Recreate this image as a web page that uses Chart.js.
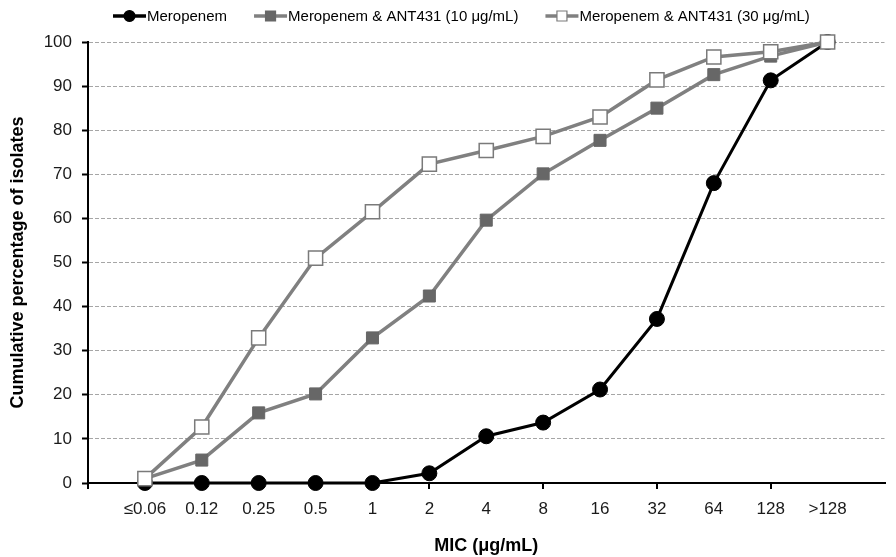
<!DOCTYPE html>
<html>
<head>
<meta charset="utf-8">
<script src="https://cdn.jsdelivr.net/npm/chart.js@4.4.1/dist/chart.umd.min.js"></script>
<style>
  html, body { margin: 0; padding: 0; background: #fff; }
</style>
</head>
<body>
<canvas id="myChart" width="896" height="557"></canvas>
<script>
// MIC 類別
var micLabels = ['≤0.06', '0.12', '0.25', '0.5', '1', '2', '4', '8', '16', '32', '64', '128', '>128'];
var seriesNames = ['Meropenem', 'Meropenem & ANT431 (10 μg/mL)', 'Meropenem & ANT431 (30 μg/mL)'];
// 累積百分比
var meropenem = [0, 0, 0, 0, 0, 2.2, 10.6, 13.7, 21.2, 37.2, 68, 91.3, 100];
var ant10 = [1, 5.2, 15.9, 20.2, 32.9, 42.4, 59.6, 70.1, 77.7, 85, 92.6, 96.8, 100];
var ant30 = [1, 12.7, 32.9, 51, 61.5, 72.3, 75.4, 78.6, 83, 91.4, 96.6, 97.8, 100];

function toPoints(arr) {
  return arr.map(function (v, i) { return { x: i + 1, y: v }; });
}

var fontFamily = 'Arial, "Liberation Sans", sans-serif';
Chart.defaults.font.family = fontFamily;

// 上方圖例 (線 + 標記)
var topLegend = {
  id: 'topLegend',
  afterDraw: function (chart) {
    var ctx = chart.ctx;
    ctx.save();
    ctx.font = '15px ' + fontFamily;
    ctx.textBaseline = 'middle';
    var x = 113, y = 16;
    chart.data.datasets.forEach(function (ds) {
      ctx.strokeStyle = ds.borderColor;
      ctx.lineWidth = 3.5;
      ctx.beginPath();
      ctx.moveTo(x, y);
      ctx.lineTo(x + 33, y);
      ctx.stroke();
      var cx = x + 16.5;
      ctx.fillStyle = ds.pointBackgroundColor;
      ctx.strokeStyle = ds.pointBorderColor;
      ctx.lineWidth = 1.2;
      ctx.beginPath();
      if (ds.pointStyle === 'circle') {
        ctx.arc(cx, y, 5.5, 0, Math.PI * 2);
      } else {
        ctx.rect(cx - 5, y - 5, 10, 10);
      }
      ctx.fill();
      ctx.stroke();
      ctx.fillStyle = '#000';
      ctx.fillText(ds.label, x + 34, y + 1);
      x += 34 + ctx.measureText(ds.label).width + 27;
    });
    ctx.restore();
  }
};

new Chart(document.getElementById('myChart'), {
  type: 'line',
  data: {
    datasets: [
      {
        label: seriesNames[0],
        data: toPoints(meropenem),
        borderColor: '#000',
        borderWidth: 3,
        pointStyle: 'circle',
        pointRadius: 7.5,
        pointBackgroundColor: '#000',
        pointBorderColor: '#000',
        pointBorderWidth: 1,
        order: 3,
        clip: false
      },
      {
        label: seriesNames[1],
        data: toPoints(ant10),
        borderColor: '#808080',
        borderWidth: 3.5,
        pointStyle: 'rect',
        pointRadius: 8.5,
        pointBackgroundColor: '#676767',
        pointBorderColor: '#676767',
        pointBorderWidth: 1,
        order: 2,
        clip: false
      },
      {
        label: seriesNames[2],
        data: toPoints(ant30),
        borderColor: '#808080',
        borderWidth: 3.5,
        pointStyle: 'rect',
        pointRadius: 10,
        pointBackgroundColor: '#fff',
        pointBorderColor: '#7a7a7a',
        pointBorderWidth: 1.5,
        order: 1,
        clip: false
      }
    ]
  },
  options: {
    responsive: false,
    animation: false,
    devicePixelRatio: 1,
    layout: { padding: { top: 42, right: 0, left: 0, bottom: 0 } },
    elements: { line: { tension: 0 } },
    plugins: {
      legend: { display: false },
      tooltip: { enabled: false }
    },
    scales: {
      x: {
        type: 'linear',
        min: 0,
        max: 14,
        afterFit: function (s) { s.height = 74; },
        border: { color: '#000', width: 2 },
        grid: {
          drawOnChartArea: false,
          tickLength: 6,
          lineWidth: 2,
          tickColor: function (c) {
            var v = c.tick.value;
            return (v % 2 === 0 && v < 14) ? '#000' : 'rgba(0,0,0,0)';
          }
        },
        ticks: {
          stepSize: 1,
          autoSkip: false,
          maxRotation: 0,
          padding: 10,
          color: '#1a1a1a',
          font: { size: 17 },
          callback: function (v) { return micLabels[v - 1] || ''; }
        },
        title: {
          display: true,
          text: 'MIC (μg/mL)',
          color: '#000',
          font: { size: 18, weight: 'bold' },
          padding: { top: 0, bottom: 0 }
        }
      },
      y: {
        min: 0,
        max: 100,
        afterFit: function (s) { s.width = 88; },
        border: { color: '#000', width: 2, dash: [4, 2] },
        grid: {
          color: '#a6a6a6',
          lineWidth: 1,
          tickLength: 6,
          tickColor: '#000',
          tickBorderDash: [],
          tickWidth: 2
        },
        ticks: {
          stepSize: 10,
          padding: 10,
          color: '#1a1a1a',
          font: { size: 17 }
        },
        title: {
          display: true,
          text: 'Cumulative percentage of isolates',
          color: '#000',
          font: { size: 18, weight: 'bold' },
          padding: { top: 7, bottom: 0 }
        }
      }
    }
  },
  plugins: [topLegend]
});
</script>
</body>
</html>
